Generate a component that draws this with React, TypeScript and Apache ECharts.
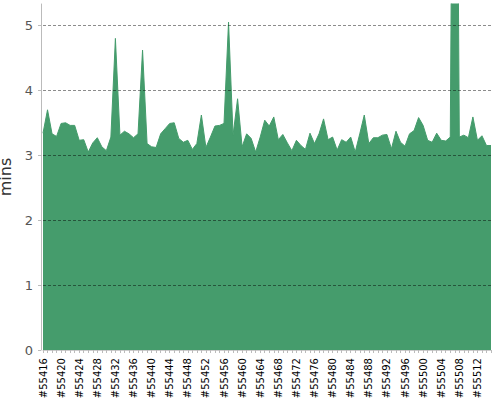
import React, { useEffect, useRef } from "react";
import * as echarts from "echarts";

const firstBuild = 55416;
const buildCount = 100;
const categories: string[] = Array.from({ length: buildCount }, (_, i) => "#" + (firstBuild + i));

const minutes: number[] = [
  3.34, 3.70, 3.33, 3.29, 3.49, 3.50, 3.46, 3.46, 3.23, 3.24,
  3.05, 3.19, 3.27, 3.13, 3.07, 3.28, 4.80, 3.31, 3.37, 3.33,
  3.27, 3.33, 4.62, 3.18, 3.13, 3.12, 3.33, 3.41, 3.49, 3.50,
  3.26, 3.20, 3.23, 3.09, 3.18, 3.62, 3.12, 3.28, 3.45, 3.46,
  3.49, 5.05, 3.31, 3.87, 3.13, 3.33, 3.26, 3.05, 3.28, 3.54,
  3.45, 3.59, 3.24, 3.32, 3.19, 3.07, 3.23, 3.15, 3.09, 3.34,
  3.18, 3.33, 3.56, 3.24, 3.28, 3.08, 3.24, 3.20, 3.28, 3.05,
  3.33, 3.62, 3.18, 3.27, 3.27, 3.31, 3.32, 3.10, 3.37, 3.20,
  3.14, 3.33, 3.38, 3.58, 3.46, 3.23, 3.20, 3.34, 3.23, 3.22,
  3.28, 14.0, 3.28, 3.31, 3.27, 3.59, 3.23, 3.30, 3.15, 3.15,
];

const yMax = 5.33;
const green = "#459c6c";

export default function App() {
  const ref = useRef<HTMLDivElement>(null);
  useEffect(() => {
    if (!ref.current) return;
    const chart = echarts.init(ref.current, null, { renderer: "svg" });
    chart.setOption({
      animation: false,
      grid: { left: 43, right: 9, top: 4, bottom: 50, containLabel: false, outerBoundsMode: "none" },
      xAxis: {
        type: "category",
        data: categories,
        boundaryGap: false,
        offset: 3,
        axisLine: { show: true, lineStyle: { color: "#cccccc", width: 1 } },
        axisTick: { show: true, interval: 0, length: 3, lineStyle: { color: "#bbbbbb" } },
        axisLabel: {
          interval: 3,
          rotate: 90,
          margin: 5,
          color: "#000",
          fontSize: 10,
          fontFamily: "DejaVu Sans",
        },
        splitLine: { show: false },
      },
      yAxis: {
        type: "value",
        min: 0,
        max: yMax,
        interval: 1,
        offset: 2,
        z: 5,
        name: "mins",
        nameLocation: "middle",
        nameRotate: 90,
        nameGap: 24,
        nameTextStyle: { color: "#333", fontSize: 16, fontFamily: "DejaVu Sans", lineHeight: 16 },
        axisLine: { show: true, lineStyle: { color: "#bbbbbb", width: 1 } },
        axisTick: { show: true, length: 3, lineStyle: { color: "#bbbbbb" } },
        axisLabel: {
          showMaxLabel: false,
          margin: 8,
          color: "#555",
          fontSize: 13,
          fontFamily: "DejaVu Sans",
        },
        splitLine: {
          show: true,
          showMinLine: false,
          showMaxLine: false,
          lineStyle: { color: "rgba(0,0,0,0.45)", type: [3, 2], width: 1 },
        },
      },
      series: [
        {
          type: "line",
          data: minutes,
          symbol: "none",
          clip: true,
          z: 2,
          lineStyle: { color: green, width: 1 },
          itemStyle: { color: green },
          areaStyle: { color: green, opacity: 1 },
        },
      ],
    });
    return () => chart.dispose();
  }, []);
  return <div ref={ref} style={{ width: 500, height: 400, position: "absolute", left: 0, top: 0 }} />;
}
